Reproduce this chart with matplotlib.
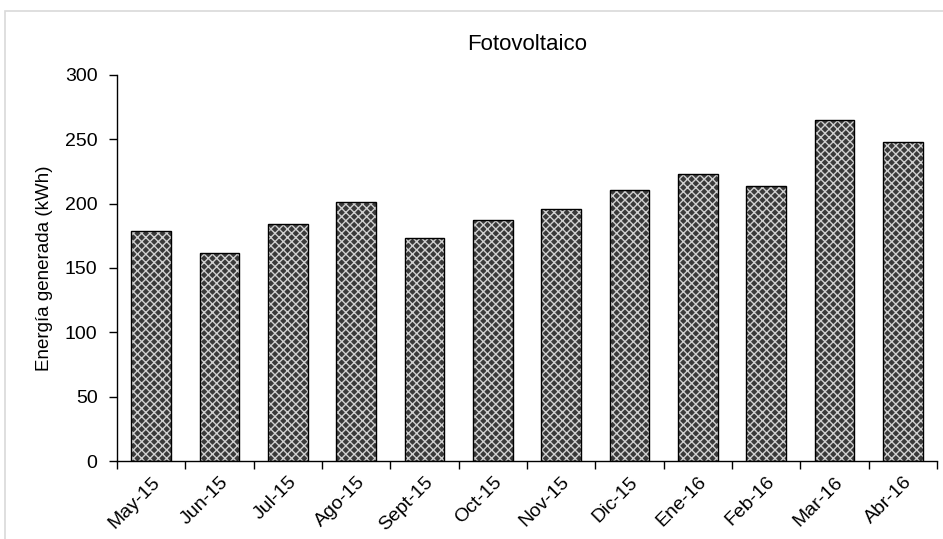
import matplotlib
matplotlib.use("Agg")
import matplotlib.pyplot as plt
from matplotlib.patches import Rectangle
import numpy as np

categories = ["May-15", "Jun-15", "Jul-15", "Ago-15", "Sept-15", "Oct-15",
              "Nov-15", "Dic-15", "Ene-16", "Feb-16", "Mar-16", "Abr-16"]
energy = [179, 162, 184, 201, 173, 187, 196, 211, 223, 214, 265, 248]
yticks = [0, 50, 100, 150, 200, 250, 300]

plt.rcParams['font.family'] = ['Liberation Sans', 'DejaVu Sans']
plt.rcParams['hatch.linewidth'] = 1.0

fig = plt.figure(figsize=(9.43, 5.39), dpi=100)
ax = fig.add_axes([117/943, 78/539, (937-117)/943, (461-75)/539])

x = np.arange(len(categories))
ax.bar(x, energy, width=0.58, color='#3a3a3a', edgecolor='#d0d0d0', hatch='xxxx', linewidth=0, zorder=2)
ax.bar(x, energy, width=0.58, fill=False, edgecolor='black', linewidth=1.0, zorder=3)

ax.set_xlim(-0.5, len(categories) - 0.5)
ax.set_ylim(0, 300)
ax.set_yticks(yticks)
ax.set_xticks(x)
ax.set_xticklabels(categories, rotation=45, ha='right', rotation_mode='anchor', fontsize=14)
ax.tick_params(axis='x', length=0, pad=9)
ax.set_xticks(np.arange(-0.5, len(categories)), minor=True)
ax.tick_params(axis='x', which='minor', length=6, width=1, direction='out')
ax.tick_params(axis='y', length=6, width=1, direction='out', labelsize=14, pad=8)
for s in ['top', 'right']:
    ax.spines[s].set_visible(False)
for s in ['left', 'bottom']:
    ax.spines[s].set_linewidth(1)
ax.set_ylabel('Energía generada (kWh)', fontsize=13.5)
ax.yaxis.set_label_coords(-0.078, 0.5)
ax.set_title('Fotovoltaico', fontsize=16, pad=18)

fig.patches.append(Rectangle((5/943, -0.01), 1.0, (539-11)/539 + 0.01, transform=fig.transFigure,
                             fill=False, edgecolor='#d9d9d9', linewidth=1.2))

fig.savefig('out.png', dpi=100)
